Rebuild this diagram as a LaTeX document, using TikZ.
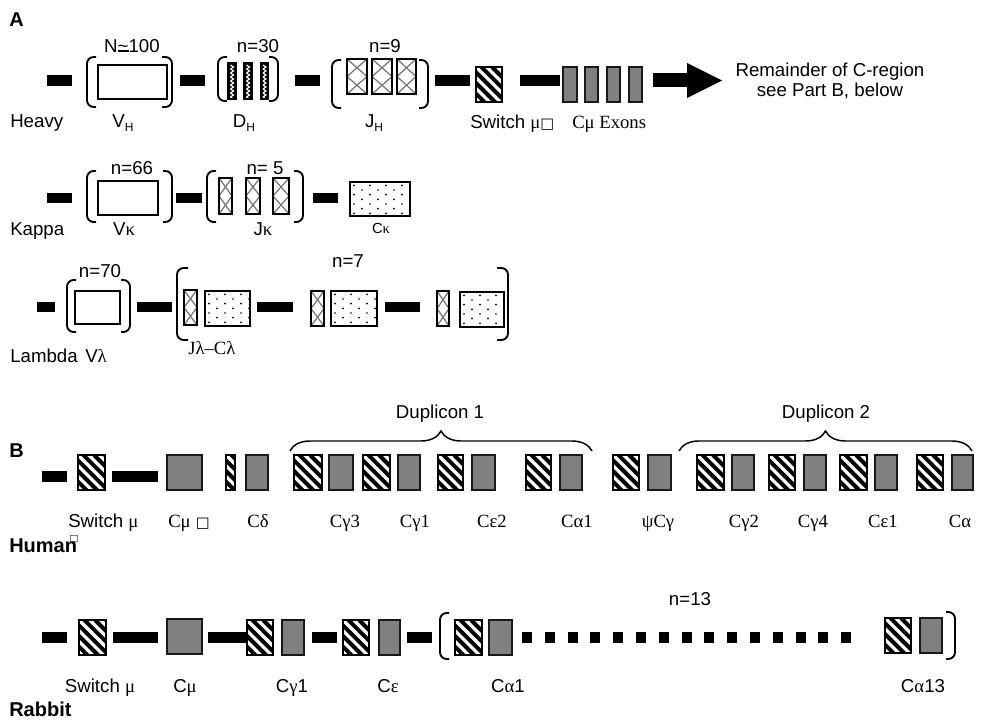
\documentclass[tikz,border=0pt]{standalone}
\usepackage{fontspec}
\setmainfont{Liberation Sans}
\newfontfamily\tms{Liberation Serif}
\newfontfamily\dvs{DejaVu Sans}
\usetikzlibrary{calc,decorations.pathreplacing}
\definecolor{midgray}{RGB}{128,128,128}
\newcommand\gk[1]{{\tms #1}}
\newcommand\subH{\raisebox{-0.4ex}{\fontsize{9}{9}\selectfont H}}
\newcommand\sqbox[1]{{\dvs\fontsize{#1}{#1}\selectfont □}}
\begin{document}
\begin{tikzpicture}[x=0.75pt,y=-0.75pt,
  txt/.style={inner sep=0pt, font=\fontsize{14}{16}\selectfont},
  hdr/.style={inner sep=0pt, font=\fontsize{15}{16}\selectfont\bfseries},
  bar/.style={fill=black},
  openbox/.style={draw=black, line width=1.5pt, fill=white},
  gbox/.style={fill=midgray, draw=black!90, line width=1.1pt},
  hbox/.style={draw=black, line width=1.1pt, fill=white,
    path picture={\foreach \i in {-36,-28,...,32}
      \draw[line width=3pt] ($(path picture bounding box.north west)+(\i*1pt,0pt)$) -- ++(40pt,-40pt);}},
  dbox/.style={draw=black, line width=1.1pt, fill=black,
    path picture={\foreach \k in {0,...,8}
      \draw[white, line width=0.9pt] ($(path picture bounding box.north)+(-1.1pt,{-1.5pt-\k*3pt})$) -- ++(2.2pt,-1.5pt) -- ++(-2.2pt,-1.5pt);}},
  jbox/.style={draw=black, line width=1.1pt, fill=white,
    path picture={\draw[black!55, line width=0.9pt] (path picture bounding box.north west) -- (path picture bounding box.east) -- (path picture bounding box.south west);
      \draw[black!55, line width=0.9pt] (path picture bounding box.north east) -- (path picture bounding box.west) -- (path picture bounding box.south east);}},
  cbox/.style={draw=black, line width=1.3pt, fill=white,
    path picture={
      \foreach \rowy in {2.5,9.5,...,30} \foreach \colx in {3,15,...,60}
        \fill[black] ($(path picture bounding box.north west)+(\colx pt,-\rowy pt)$) circle (0.7pt);
      \foreach \rowy in {6,13,...,30} \foreach \colx in {9,21,...,60}
        \fill[black] ($(path picture bounding box.north west)+(\colx pt,-\rowy pt)$) circle (0.7pt);}},
  brk/.style={line width=1.4pt, rounded corners=5pt},
  brc/.style={line width=1.1pt, decorate, decoration={brace, amplitude=15pt}}
]
\useasboundingbox (0,0) rectangle (982,720);

% ===== Part A =====
\node[hdr, anchor=base west] (lA) at (9,27) {A};

% Heavy
\fill[bar] (47,75) rectangle (72,86);
\fill[bar] (180,75) rectangle (205,86);
\fill[bar] (295,75) rectangle (320,86);
\fill[bar] (435,75) rectangle (470,86);
\fill[bar] (520,75) rectangle (560,86);
\draw[brk] (96,57) -- (87,57) -- (87,107) -- (96,107);
\draw[brk] (162,57) -- (172,57) -- (172,107) -- (162,107);
\draw[openbox] (98,65) rectangle (167,99);
\draw[brk] (227,57) -- (218,57) -- (218,101) -- (227,101);
\draw[brk] (269,57) -- (278,57) -- (278,101) -- (269,101);
\draw[dbox] (228,63) rectangle (236,99);
\draw[dbox] (244,63) rectangle (252,99);
\draw[dbox] (261,63) rectangle (268,99);
\draw[brk] (341,60) -- (332,60) -- (332,108) -- (341,108);
\draw[brk] (419,60) -- (428,60) -- (428,108) -- (419,108);
\draw[jbox] (347,59) rectangle (367,94);
\draw[jbox] (372,59) rectangle (392,94);
\draw[jbox] (397,59) rectangle (416,94);
\draw[hbox] (476,67) rectangle (502,102);
\draw[gbox] (563,67) rectangle (577,102);
\draw[gbox] (585,67) rectangle (598,102);
\draw[gbox] (607,67) rectangle (620,102);
\draw[gbox] (629,67) rectangle (642,102);
\fill (653,73) rectangle (688,87);
\fill (687,63) -- (722,80.5) -- (687,98) -- cycle;

\node[txt, anchor=base] (nvh) at (132,53) {N{\ooalign{\textasciitilde\cr\rule[0.12ex]{0.58em}{0.08em}}}100};
\node[txt, anchor=base] (ndh) at (258,53) {n=30};
\node[txt, anchor=base] (njh) at (385,53) {n=9};
\node[txt, anchor=base west] (lheavy) at (10,128) {Heavy};
\node[txt, anchor=base] (lvh) at (123,128) {V\subH};
\node[txt, anchor=base] (ldh) at (244,128) {D\subH};
\node[txt, anchor=base] (ljh) at (374,128) {J\subH};
\node[txt, anchor=base west] (lsw) at (470,129) {Switch \gk{μ}\sqbox{11}};
\node[txt, anchor=base west] (lcmu) at (572,129) {\gk{Cμ Exons}};
\node[txt, anchor=base] (rem1) at (830,77) {Remainder of C-region};
\node[txt, anchor=base] (rem2) at (830,97) {see Part B, below};

% Kappa
\fill[bar] (47,193) rectangle (72,203);
\fill[bar] (176,193) rectangle (202,203);
\fill[bar] (313,193) rectangle (338,203);
\draw[brk] (96,171) -- (87,171) -- (87,222) -- (96,222);
\draw[brk] (163,171) -- (172,171) -- (172,222) -- (163,222);
\draw[openbox] (98,181) rectangle (158,215);
\draw[brk] (216,171) -- (207,171) -- (207,222) -- (216,222);
\draw[brk] (294,171) -- (303,171) -- (303,222) -- (294,222);
\draw[jbox] (219,178) rectangle (232,214);
\draw[jbox] (246,178) rectangle (260,214);
\draw[jbox] (273,178) rectangle (289,214);
\draw[cbox] (350,182) rectangle (410,216);

\node[txt, anchor=base] (nvk) at (132,175) {n=66};
\node[txt, anchor=base] (njk) at (265,175) {n= 5};
\node[txt, anchor=base west] (lkappa) at (10,236) {Kappa};
\node[txt, anchor=base] (lvk) at (124,236) {V\gk{κ}};
\node[txt, anchor=base] (ljk) at (263,236) {J\gk{κ}};
\node[txt, anchor=base, font=\fontsize{11}{12}\selectfont] (lck) at (381,234) {C\gk{κ}};

% Lambda
\fill[bar] (37,302) rectangle (55,312);
\fill[bar] (137,302) rectangle (172,312);
\fill[bar] (257,302) rectangle (293,312);
\fill[bar] (385,302) rectangle (420,312);
\draw[brk] (76,280) -- (67,280) -- (67,332) -- (76,332);
\draw[brk] (121,280) -- (130,280) -- (130,332) -- (121,332);
\draw[openbox] (75,291) rectangle (120,324);
\draw[brk] (188,268) -- (177,268) -- (177,340) -- (188,340);
\draw[brk] (497,268) -- (508,268) -- (508,340) -- (497,340);
\draw[jbox] (184,290) rectangle (197,325);
\draw[cbox] (205,291) rectangle (250,326);
\draw[jbox] (311,291) rectangle (324,326);
\draw[cbox] (331,291) rectangle (377,326);
\draw[jbox] (437,291) rectangle (449,326);
\draw[cbox] (460,292) rectangle (504,327);

\node[txt, anchor=base] (nvl) at (100,278) {n=70};
\node[txt, anchor=base] (njl) at (348,268) {n=7};
\node[txt, anchor=base west] (llambda) at (10,363) {Lambda};
\node[txt, anchor=base] (lvl) at (96,363) {V\gk{λ}};
\node[txt, anchor=base west] (ljl) at (188,354) {\gk{Jλ–Cλ}};

% ===== Part B =====
\node[hdr, anchor=base west] (lB) at (9,457) {B};

% Human
\fill[bar] (42,471) rectangle (67,482);
\fill[bar] (112,471) rectangle (158,482);
\draw[hbox] (78,455) rectangle (105,490);
\draw[gbox] (167,455) rectangle (202,490);
\draw[hbox] (226,455) rectangle (235,490);
\draw[gbox] (246,455) rectangle (268,490);
\draw[hbox] (294,455) rectangle (322,490);
\draw[gbox] (329,455) rectangle (353,490);
\draw[hbox] (363,455) rectangle (390,490);
\draw[gbox] (398,455) rectangle (420,490);
\draw[hbox] (438,455) rectangle (463,490);
\draw[gbox] (472,455) rectangle (495,490);
\draw[hbox] (526,455) rectangle (551,490);
\draw[gbox] (560,455) rectangle (582,490);
\draw[hbox] (613,455) rectangle (639,490);
\draw[gbox] (648,455) rectangle (671,490);
\draw[hbox] (697,455) rectangle (724,490);
\draw[gbox] (732,455) rectangle (754,490);
\draw[hbox] (769,455) rectangle (795,490);
\draw[gbox] (804,455) rectangle (826,490);
\draw[hbox] (840,455) rectangle (867,490);
\draw[gbox] (875,455) rectangle (897,490);
\draw[hbox] (917,455) rectangle (943,490);
\draw[gbox] (952,455) rectangle (973,490);

\draw[brc] (290,451) -- (592,451);
\draw[brc] (679,451) -- (972,451);
\node[txt, anchor=base] (ld1) at (440,418) {Duplicon 1};
\node[txt, anchor=base] (ld2) at (826,418) {Duplicon 2};

\node[txt, anchor=base west] (hsw) at (68,527) {Switch \gk{μ}};
\node[txt, anchor=base west] (hcmu) at (168,527) {\gk{Cμ} \sqbox{11}};
\node[txt, anchor=base] (hcd) at (258,527) {\gk{Cδ}};
\node[txt, anchor=base] (hcg3) at (345,527) {\gk{Cγ3}};
\node[txt, anchor=base] (hcg1) at (415,527) {\gk{Cγ1}};
\node[txt, anchor=base] (hce2) at (492,527) {\gk{Cε2}};
\node[txt, anchor=base] (hca1) at (577,527) {\gk{Cα1}};
\node[txt, anchor=base] (hpsi) at (658,527) {\gk{ψCγ}};
\node[txt, anchor=base] (hcg2) at (744,527) {\gk{Cγ2}};
\node[txt, anchor=base] (hcg4) at (813,527) {\gk{Cγ4}};
\node[txt, anchor=base] (hce1) at (883,527) {\gk{Cε1}};
\node[txt, anchor=base] (hca) at (960,527) {\gk{Cα}};
\node[hdr, anchor=base west] (lhuman) at (9,552) {Human};
\node[inner sep=0pt, font=\fontsize{7}{7}\selectfont] (hsq) at (74,539) {\sqbox{7}};

% Rabbit
\fill[bar] (42,632) rectangle (67,643);
\fill[bar] (113,632) rectangle (158,643);
\fill[bar] (208,632) rectangle (247,643);
\fill[bar] (312,632) rectangle (337,643);
\fill[bar] (407,632) rectangle (432,643);
\draw[hbox] (79,620) rectangle (106,655);
\draw[gbox] (167,619) rectangle (202,654);
\draw[hbox] (247,620) rectangle (273,655);
\draw[gbox] (282,620) rectangle (304,655);
\draw[hbox] (343,620) rectangle (369,655);
\draw[gbox] (379,620) rectangle (400,655);
\draw[brk] (449,613) -- (440,613) -- (440,659) -- (449,659);
\draw[hbox] (455,620) rectangle (482,655);
\draw[gbox] (489,620) rectangle (512,655);
\foreach \k in {0,...,14} \fill[bar] ({522+\k*22.8},632) rectangle ++(10,11);
\draw[hbox] (885,618) rectangle (911,653);
\draw[gbox] (920,618) rectangle (942,653);
\draw[brk] (946,612) -- (955,612) -- (955,659) -- (946,659);

\node[txt, anchor=base] (n13) at (690,605) {n=13};
\node[txt, anchor=base] (rsw) at (100,692) {Switch \gk{μ}};
\node[txt, anchor=base] (rcmu) at (185,692) {C\gk{μ}};
\node[txt, anchor=base] (rcg1) at (292,692) {C\gk{γ}1};
\node[txt, anchor=base] (rce) at (388,692) {C\gk{ε}};
\node[txt, anchor=base] (rca1) at (508,692) {C\gk{α}1};
\node[txt, anchor=base] (rca13) at (923,692) {C\gk{α}13};
\node[hdr, anchor=base west] (lrabbit) at (9,716) {Rabbit};
\end{tikzpicture}
\end{document}
